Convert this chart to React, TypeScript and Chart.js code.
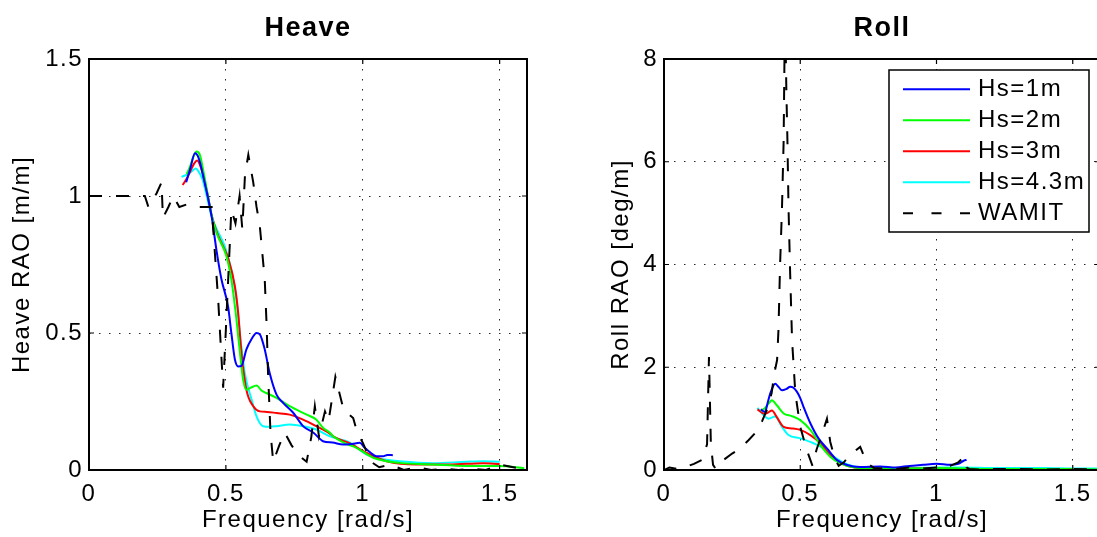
import React, { useEffect, useRef } from 'react';
import { Chart, registerables } from 'chart.js';

Chart.register(...registerables);

const FONT = "'Liberation Sans', Arial, Helvetica, sans-serif";

// ---- tick values / labels ----
const freqTicks = [0, 0.5, 1, 1.5];
const freqTickLabels = ['0', '0.5', '1', '1.5'];
const heaveTicks = [0, 0.5, 1, 1.5];
const heaveTickLabels = ['0', '0.5', '1', '1.5'];
const rollTicks = [0, 2, 4, 6, 8];
const rollTickLabels = ['0', '2', '4', '6', '8'];

// ---- series names ----
const seriesLabels = ['Hs=1m', 'Hs=2m', 'Hs=3m', 'Hs=4.3m', 'WAMIT'];

// ---- Heave RAO [m/m] ----
const heaveHs1Freq = [0.355, 0.37, 0.387, 0.40, 0.42, 0.448, 0.466, 0.484, 0.508, 0.52, 0.533, 0.545, 0.557, 0.575, 0.595, 0.612, 0.624, 0.642, 0.66, 0.685, 0.709, 0.746, 0.782, 0.82, 0.855, 0.89, 0.928, 0.96, 0.989, 1.007, 1.03, 1.05, 1.074, 1.09, 1.11];
const heaveHs1Val = [1.05, 1.1, 1.156, 1.14, 1.06, 0.925, 0.80, 0.695, 0.597, 0.50, 0.403, 0.378, 0.38, 0.44, 0.48, 0.50, 0.495, 0.44, 0.354, 0.275, 0.245, 0.209, 0.16, 0.136, 0.105, 0.1, 0.093, 0.095, 0.099, 0.081, 0.062, 0.05, 0.05, 0.055, 0.054];

const heaveHs2Freq = [0.357, 0.37, 0.38, 0.393, 0.405, 0.42, 0.448, 0.466, 0.502, 0.52, 0.536, 0.549, 0.563, 0.575, 0.59, 0.612, 0.63, 0.648, 0.685, 0.733, 0.795, 0.83, 0.855, 0.88, 0.892, 0.93, 0.977, 1.04, 1.135, 1.257, 1.378, 1.5, 1.59];
const heaveHs2Val = [1.08, 1.11, 1.14, 1.162, 1.15, 1.08, 0.93, 0.865, 0.78, 0.695, 0.573, 0.451, 0.33, 0.293, 0.30, 0.308, 0.29, 0.281, 0.263, 0.233, 0.202, 0.184, 0.154, 0.136, 0.123, 0.10, 0.081, 0.044, 0.026, 0.02, 0.015, 0.015, 0.006];

const heaveHs3Freq = [0.342, 0.355, 0.37, 0.385, 0.395, 0.41, 0.43, 0.448, 0.466, 0.49, 0.508, 0.533, 0.545, 0.557, 0.575, 0.60, 0.624, 0.65, 0.685, 0.733, 0.782, 0.83, 0.88, 0.892, 0.953, 1.013, 1.087, 1.196, 1.317, 1.44, 1.5];
const heaveHs3Val = [1.04, 1.06, 1.09, 1.12, 1.13, 1.10, 1.02, 0.93, 0.87, 0.816, 0.774, 0.67, 0.573, 0.427, 0.293, 0.233, 0.214, 0.212, 0.208, 0.202, 0.184, 0.16, 0.133, 0.123, 0.097, 0.063, 0.032, 0.02, 0.02, 0.025, 0.022];

const heaveHs43Freq = [0.338, 0.362, 0.375, 0.39, 0.40, 0.415, 0.43, 0.448, 0.466, 0.496, 0.52, 0.539, 0.551, 0.569, 0.594, 0.612, 0.636, 0.66, 0.685, 0.733, 0.782, 0.83, 0.88, 0.953, 1.013, 1.07, 1.135, 1.257, 1.378, 1.44, 1.5];
const heaveHs43Val = [1.07, 1.08, 1.09, 1.10, 1.09, 1.06, 1.0, 0.925, 0.88, 0.816, 0.73, 0.622, 0.50, 0.354, 0.257, 0.196, 0.16, 0.158, 0.16, 0.166, 0.16, 0.148, 0.123, 0.1, 0.057, 0.04, 0.032, 0.025, 0.03, 0.032, 0.03];

const heaveWamitFreq = [0, 0.2, 0.204, 0.217, 0.247, 0.265, 0.27, 0.29, 0.308, 0.33, 0.36, 0.4, 0.448, 0.472, 0.49, 0.505, 0.52, 0.535, 0.55, 0.56, 0.57, 0.582, 0.6, 0.612, 0.624, 0.642, 0.649, 0.654, 0.663, 0.673, 0.695, 0.715, 0.74, 0.77, 0.795, 0.812, 0.825, 0.84, 0.862, 0.875, 0.9, 0.93, 0.965, 0.98, 1.0, 1.03, 1.06, 1.1, 1.15, 1.2, 1.25, 1.3, 1.35, 1.4, 1.45, 1.5, 1.55, 1.6];
const heaveWamitVal = [1.0, 1.0, 1.0, 0.96, 1.01, 1.05, 0.92, 0.96, 1.0, 0.96, 0.97, 0.96, 0.96, 0.62, 0.3, 0.62, 0.95, 0.9, 1.0, 0.88, 1.08, 1.15, 1.05, 0.96, 0.89, 0.695, 0.524, 0.354, 0.136, 0.03, 0.09, 0.136, 0.09, 0.05, 0.03, 0.12, 0.233, 0.123, 0.214, 0.178, 0.34, 0.22, 0.19, 0.136, 0.1, 0.03, 0.01, 0.02, 0.0, 0.01, 0.0, 0.005, 0.0, 0.005, 0.0, 0.02, 0.01, 0.0];

// ---- Roll RAO [deg/m] ----
const rollHs1Freq = [0.355, 0.371, 0.38, 0.39, 0.408, 0.42, 0.433, 0.45, 0.463, 0.475, 0.488, 0.50, 0.512, 0.537, 0.567, 0.598, 0.635, 0.672, 0.72, 0.794, 0.85, 0.9, 0.95, 1.0, 1.05, 1.08, 1.1, 1.11];
const rollHs1Val = [1.18, 1.13, 1.3, 1.49, 1.68, 1.62, 1.55, 1.58, 1.62, 1.6, 1.52, 1.4, 1.23, 0.91, 0.615, 0.42, 0.195, 0.097, 0.06, 0.07, 0.05, 0.08, 0.1, 0.12, 0.1, 0.12, 0.18, 0.2];

const rollHs2Freq = [0.355, 0.37, 0.385, 0.396, 0.414, 0.439, 0.469, 0.5, 0.537, 0.574, 0.61, 0.647, 0.7, 0.8, 0.9, 1.0, 1.1, 1.2, 1.3, 1.4, 1.5, 1.6];
const rollHs2Val = [1.15, 1.2, 1.3, 1.36, 1.26, 1.1, 1.05, 0.97, 0.78, 0.485, 0.26, 0.13, 0.05, 0.03, 0.03, 0.04, 0.03, 0.02, 0.02, 0.02, 0.015, 0.01];

const rollHs3Freq = [0.343, 0.37, 0.383, 0.396, 0.414, 0.439, 0.469, 0.5, 0.537, 0.574, 0.61, 0.647, 0.7, 0.8, 0.9, 1.0, 1.1, 1.2, 1.3, 1.4, 1.5];
const rollHs3Val = [1.18, 1.09, 1.12, 1.16, 1.03, 0.84, 0.81, 0.78, 0.68, 0.52, 0.29, 0.14, 0.05, 0.03, 0.03, 0.03, 0.02, 0.02, 0.02, 0.02, 0.02];

const rollHs43Freq = [0.343, 0.365, 0.383, 0.408, 0.433, 0.457, 0.5, 0.549, 0.586, 0.622, 0.66, 0.72, 0.8, 0.9, 1.0, 1.1, 1.2, 1.3, 1.4, 1.5, 1.6];
const rollHs43Val = [1.21, 1.07, 1.0, 1.04, 0.84, 0.68, 0.615, 0.52, 0.42, 0.26, 0.14, 0.05, 0.04, 0.04, 0.05, 0.05, 0.04, 0.04, 0.04, 0.03, 0.03];

const rollWamitFreq = [0.0, 0.02, 0.05, 0.08, 0.11, 0.14, 0.158, 0.165, 0.172, 0.18, 0.19, 0.22, 0.25, 0.28, 0.31, 0.34, 0.36, 0.38, 0.395, 0.405, 0.415, 0.42, 0.426, 0.433, 0.439, 0.444, 0.449, 0.453, 0.457, 0.463, 0.47, 0.482, 0.5, 0.524, 0.545, 0.56, 0.58, 0.598, 0.61, 0.625, 0.641, 0.66, 0.684, 0.72, 0.745, 0.77, 0.8, 0.85, 0.9, 0.95, 1.0, 1.05, 1.08, 1.1, 1.11, 1.12, 1.15, 1.2, 1.3, 1.4, 1.5, 1.6];
const rollWamitVal = [0.0, 0.05, 0.02, 0.06, 0.12, 0.2, 0.5, 2.2, 0.5, 0.1, 0.02, 0.2, 0.32, 0.42, 0.58, 0.75, 0.95, 1.2, 1.5, 1.88, 2.14, 2.72, 4.0, 5.1, 6.4, 9.0, 7.4, 6.4, 5.1, 3.82, 2.52, 1.49, 0.84, 0.39, 0.08, 0.4, 0.7, 1.0, 0.55, 0.25, 0.08, 0.15, 0.3, 0.45, 0.13, 0.04, 0.03, 0.02, 0.05, 0.03, 0.05, 0.08, 0.15, 0.25, 0.05, 0.02, 0.01, 0.02, 0.02, 0.01, 0.02, 0.01];

// ---- styling ----
const seriesColors = ['#0000ff', '#00ff00', '#ff0000', '#00ffff', '#000000'];
const LETTER_SPACING = '1.5px';
const TEXT_SIZE = 24;

const toPoints = (f: number[], v: number[]) => f.map((x, i) => ({ x, y: v[i] }));

function buildDatasets(series: [number[], number[]][]) {
  return series.map(([f, v], i) => {
    const isWamit = i === 4;
    return {
      label: seriesLabels[i],
      data: toPoints(f, v),
      borderColor: seriesColors[i],
      backgroundColor: seriesColors[i],
      borderWidth: 2,
      pointRadius: 0,
      fill: false,
      borderDash: isWamit ? [13, 14] : [],
      tension: 0,
      cubicInterpolationMode: isWamit ? 'default' : 'monotone',
      order: isWamit ? 0 : 1,
    };
  });
}

const spacingPlugin = {
  id: 'spacing',
  beforeLayout(chart: any) {
    chart.ctx.letterSpacing = LETTER_SPACING;
  },
  beforeDraw(chart: any) {
    chart.ctx.letterSpacing = LETTER_SPACING;
  },
};

const boxPlugin = {
  id: 'matlabBox',
  afterDatasetsDraw(chart: any, _args: any, opts: any) {
    const { ctx, chartArea } = chart;
    const { left, right, top, bottom } = chartArea;
    const xs = chart.scales.x;
    const ys = chart.scales.y;
    ctx.save();
    ctx.setLineDash([]);
    ctx.strokeStyle = '#000';
    ctx.lineWidth = 2;
    ctx.strokeRect(left, top, right - left, bottom - top);
    ctx.lineWidth = 1.2;
    const tl = 5;
    ctx.beginPath();
    (opts.xTicks || []).forEach((v: number) => {
      const px = xs.getPixelForValue(v);
      ctx.moveTo(px, bottom);
      ctx.lineTo(px, bottom - tl);
      ctx.moveTo(px, top);
      ctx.lineTo(px, top + tl);
    });
    (opts.yTicks || []).forEach((v: number) => {
      const py = ys.getPixelForValue(v);
      ctx.moveTo(left, py);
      ctx.lineTo(left + tl, py);
      ctx.moveTo(right, py);
      ctx.lineTo(right - tl, py);
    });
    ctx.stroke();
    ctx.restore();
  },
};

const legendPlugin = {
  id: 'boxLegend',
  afterDraw(chart: any, _args: any, opts: any) {
    if (!opts || !opts.show) return;
    const { ctx } = chart;
    const { x, y, w, h, firstRow, rowH, lineX0, lineX1, textX } = opts;
    ctx.save();
    ctx.letterSpacing = LETTER_SPACING;
    ctx.fillStyle = '#ffffff';
    ctx.fillRect(x, y, w, h);
    ctx.strokeStyle = '#000';
    ctx.lineWidth = 1.5;
    ctx.setLineDash([]);
    ctx.strokeRect(x, y, w, h);
    chart.data.datasets.forEach((ds: any, i: number) => {
      const cy = y + firstRow + i * rowH;
      ctx.beginPath();
      ctx.setLineDash(ds.borderDash && ds.borderDash.length ? [10, 18.5] : []);
      ctx.strokeStyle = ds.borderColor;
      ctx.lineWidth = 2;
      ctx.moveTo(lineX0, cy);
      ctx.lineTo(lineX1, cy);
      ctx.stroke();
      ctx.setLineDash([]);
      ctx.fillStyle = '#000';
      ctx.font = `${TEXT_SIZE}px ${FONT}`;
      ctx.textBaseline = 'middle';
      ctx.textAlign = 'left';
      ctx.fillText(ds.label, textX, cy);
    });
    ctx.restore();
  },
};

type Cfg = {
  title: string;
  yTitle: string;
  yMax: number;
  yTicks: number[];
  yTickLabels: string[];
  axisWidth: number;
  yTitlePad: number;
  padRight: number;
  datasets: any[];
  legend?: any;
};

function makeConfig(c: Cfg): any {
  const tickFont = { family: FONT, size: TEXT_SIZE };
  return {
    type: 'line',
    data: { datasets: c.datasets },
    plugins: [spacingPlugin, boxPlugin, legendPlugin],
    options: {
      responsive: false,
      animation: false,
      layout: { padding: { left: 0, right: c.padRight, top: 0, bottom: 0 } },
      plugins: {
        legend: { display: false },
        tooltip: { enabled: false },
        title: {
          display: true,
          fullSize: false,
          text: c.title,
          color: '#000',
          font: { family: FONT, size: 27, weight: 'bold' },
          padding: { top: 12.8, bottom: 13.8 },
        },
        matlabBox: { xTicks: freqTicks, yTicks: c.yTicks },
        boxLegend: c.legend || { show: false },
      },
      scales: {
        x: {
          type: 'linear',
          min: 0,
          max: 1.6,
          afterBuildTicks: (s: any) => {
            s.ticks = freqTicks.map((v) => ({ value: v }));
          },
          afterFit: (s: any) => {
            s.height = 67;
          },
          ticks: {
            color: '#000',
            font: tickFont,
            padding: 10,
            autoSkip: false,
            maxRotation: 0,
            callback: (_v: any, i: number) => freqTickLabels[i],
          },
          grid: { color: 'rgba(0,0,0,0.85)', lineWidth: 1, drawTicks: false },
          border: { display: false, dash: [1.5, 8.5] },
          title: {
            display: true,
            text: 'Frequency [rad/s]',
            color: '#000',
            font: { family: FONT, size: TEXT_SIZE },
            padding: { top: 0, bottom: 2.6 },
          },
        },
        y: {
          type: 'linear',
          min: 0,
          max: c.yMax,
          afterBuildTicks: (s: any) => {
            s.ticks = c.yTicks.map((v) => ({ value: v }));
          },
          afterFit: (s: any) => {
            s.width = c.axisWidth;
          },
          ticks: {
            color: '#000',
            font: tickFont,
            padding: 6,
            autoSkip: false,
            callback: (_v: any, i: number) => c.yTickLabels[i],
          },
          grid: { color: 'rgba(0,0,0,0.85)', lineWidth: 1, drawTicks: false },
          border: { display: false, dash: [1.5, 8.5] },
          title: {
            display: true,
            text: c.yTitle,
            color: '#000',
            font: { family: FONT, size: TEXT_SIZE },
            padding: { top: c.yTitlePad, bottom: 0 },
          },
        },
      },
    },
  };
}

function ChartCanvas({ cfg, left, width }: { cfg: () => any; left: number; width: number }) {
  const ref = useRef<HTMLCanvasElement | null>(null);
  useEffect(() => {
    if (!ref.current) return;
    const chart = new Chart(ref.current, cfg());
    return () => chart.destroy();
  }, []);
  return (
    <canvas
      ref={ref}
      width={width}
      height={537}
      style={{ position: 'absolute', left, top: 0, width: `${width}px`, height: '537px' }}
    />
  );
}

const heaveConfig = () =>
  makeConfig({
    title: 'Heave',
    yTitle: 'Heave RAO [m/m]',
    yMax: 1.5,
    yTicks: heaveTicks,
    yTickLabels: heaveTickLabels,
    axisWidth: 89,
    yTitlePad: 7.6,
    padRight: 89,
    datasets: buildDatasets([
      [heaveHs1Freq, heaveHs1Val],
      [heaveHs2Freq, heaveHs2Val],
      [heaveHs3Freq, heaveHs3Val],
      [heaveHs43Freq, heaveHs43Val],
      [heaveWamitFreq, heaveWamitVal],
    ]),
  });

const rollConfig = () =>
  makeConfig({
    title: 'Roll',
    yTitle: 'Roll RAO [deg/m]',
    yMax: 8,
    yTicks: rollTicks,
    yTickLabels: rollTickLabels,
    axisWidth: 116,
    yTitlePad: 58.6,
    padRight: 116,
    datasets: buildDatasets([
      [rollHs1Freq, rollHs1Val],
      [rollHs2Freq, rollHs2Val],
      [rollHs3Freq, rollHs3Val],
      [rollHs43Freq, rollHs43Val],
      [rollWamitFreq, rollWamitVal],
    ]),
    legend: { show: true, x: 341, y: 70, w: 200, h: 162, firstRow: 19.3, rowH: 31, lineX0: 355, lineX1: 422, textX: 430 },
  });

export default function App() {
  return (
    <div
      style={{
        position: 'fixed',
        left: 0,
        top: 0,
        width: '1097px',
        height: '537px',
        overflow: 'hidden',
        background: '#ffffff',
      }}
    >
      <ChartCanvas cfg={heaveConfig} left={0} width={616} />
      <ChartCanvas cfg={rollConfig} left={548} width={668} />
    </div>
  );
}
